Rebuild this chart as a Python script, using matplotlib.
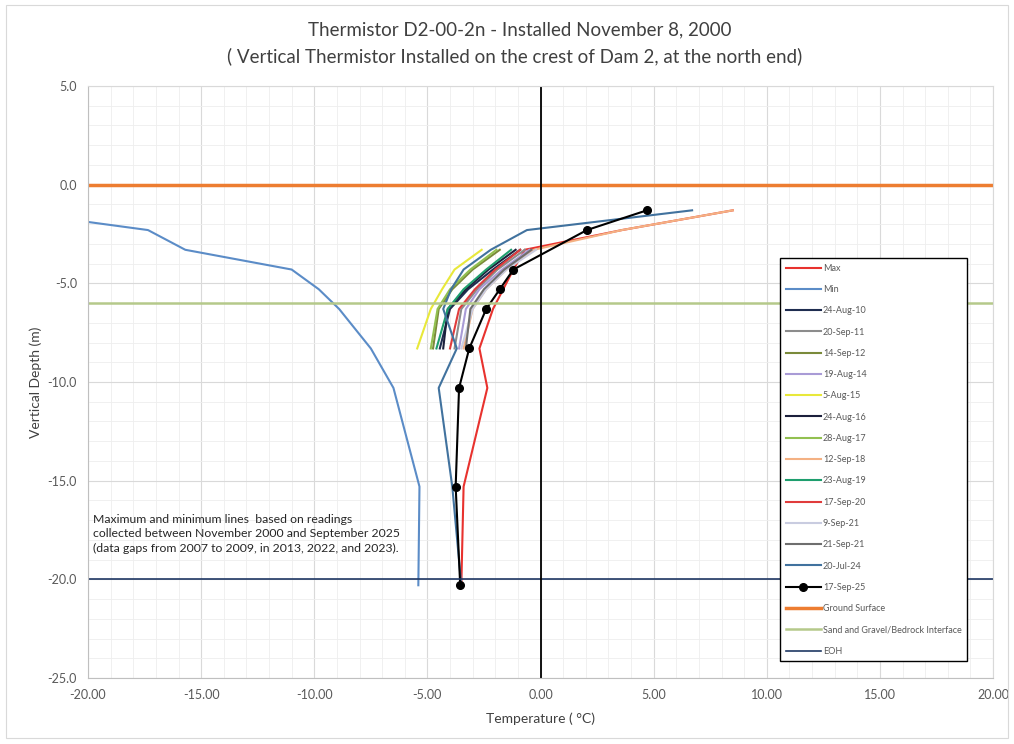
import numpy as np
import matplotlib
matplotlib.use('Agg')
import matplotlib.pyplot as plt
from matplotlib.patches import Rectangle
from matplotlib.ticker import MultipleLocator, FormatStrFormatter

plt.rcParams['font.family'] = ['Lato', 'DejaVu Sans']

# bead depths (m)
depth_full = [-1.3, -2.3, -3.3, -4.3, -5.3, -6.3, -8.3, -10.3, -15.3, -20.3]
depth_mid = [-3.3, -4.3, -5.3, -6.3, -8.3]
depth_18 = [-1.3, -2.3, -3.3, -4.3, -5.3, -6.3, -8.3]
depth_25 = [-1.3, -2.3, -4.3, -5.3, -6.3, -8.3, -10.3, -15.3, -20.3]

# temperatures (deg C)
t_max = [8.5, 3.6, -0.7, -1.2, -1.65, -2.1, -2.7, -2.35, -3.4, -3.5]
t_min = [-23.8, -17.35, -15.7, -11.0, -9.8, -8.9, -7.5, -6.5, -5.35, -5.4]
t_240810 = [-0.9, -2.1, -3.2, -4.0, -4.45]
t_110920 = [-0.7, -1.9, -2.8, -3.5, -3.8]
t_120914 = [-1.8, -3.0, -3.9, -4.5, -4.75]
t_140819 = [-0.5, -1.7, -2.7, -3.3, -3.6]
t_150805 = [-2.6, -3.8, -4.35, -4.85, -5.45]
t_160824 = [-1.1, -2.3, -3.3, -4.1, -4.3]
t_170828 = [-1.95, -3.1, -4.0, -4.55, -4.85]
t_180912 = [8.5, 3.6, -0.3, -1.5, -2.4, -3.0, -3.4]
t_190823 = [-1.3, -2.4, -3.4, -4.1, -4.6]
t_200917 = [-0.9, -2.0, -2.9, -3.6, -4.0]
t_210909 = [-0.2, -1.5, -2.4, -3.0, -3.5]
t_210921 = [-0.4, -1.6, -2.5, -3.1, -3.3]
t_240720 = [6.7, -0.6, -2.2, -3.4, -3.95, -4.3, -3.7, -4.5, -3.9, -3.5]
t_250917 = [4.7, 2.05, -1.2, -1.8, -2.4, -3.15, -3.6, -3.75, -3.55]

ground_surface = 0.0
bedrock_interface = -6.0
eoh = -20.0

fig = plt.figure(figsize=(10.14, 7.44), dpi=100)
fig.patches.append(Rectangle((0.006, 0.008), 0.988, 0.985, transform=fig.transFigure,
                             fill=False, edgecolor='#D9D9D9', lw=0.8))
ax = fig.add_axes([0.0868, 0.0887, 0.8925, 0.7957])

ax.plot(t_max, depth_full, color='#E8322E', lw=1.5, label='Max')
ax.plot(t_min, depth_full, color='#5B8CC7', lw=1.5, label='Min')
ax.plot(t_240810, depth_mid, color='#1F2D50', lw=1.5, label='24-Aug-10')
ax.plot(t_110920, depth_mid, color='#8C8C8C', lw=1.5, label='20-Sep-11')
ax.plot(t_120914, depth_mid, color='#7A8A3A', lw=1.5, label='14-Sep-12')
ax.plot(t_140819, depth_mid, color='#A99BD6', lw=1.5, label='19-Aug-14')
ax.plot(t_150805, depth_mid, color='#E8E83A', lw=1.5, label='5-Aug-15')
ax.plot(t_160824, depth_mid, color='#1B1F3B', lw=1.5, label='24-Aug-16')
ax.plot(t_170828, depth_mid, color='#92C050', lw=1.5, label='28-Aug-17')
ax.plot(t_180912, depth_18, color='#F4B183', lw=1.5, label='12-Sep-18')
ax.plot(t_190823, depth_mid, color='#1E9E6E', lw=1.5, label='23-Aug-19')
ax.plot(t_200917, depth_mid, color='#E03C3C', lw=1.5, label='17-Sep-20')
ax.plot(t_210909, depth_mid, color='#C9CCE0', lw=1.5, label='9-Sep-21')
ax.plot(t_210921, depth_mid, color='#6E6E6E', lw=1.5, label='21-Sep-21')
ax.plot(t_240720, depth_full, color='#41729E', lw=1.5, label='20-Jul-24')
ax.plot(t_250917, depth_25, color='black', lw=1.5, marker='o', ms=5.5, label='17-Sep-25')
ax.axhline(ground_surface, color='#ED7D31', lw=2.5, label='Ground Surface')
ax.axhline(bedrock_interface, color='#B5C98A', lw=1.8, label='Sand and Gravel/Bedrock Interface')
ax.axhline(eoh, color='#1F3864', lw=1.2, label='EOH')
ax.axvline(0, color='black', lw=1.3)

ax.set_xlim(-20, 20)
ax.set_ylim(-25, 5)
ax.xaxis.set_major_locator(MultipleLocator(5))
ax.xaxis.set_minor_locator(MultipleLocator(1))
ax.yaxis.set_major_locator(MultipleLocator(5))
ax.yaxis.set_minor_locator(MultipleLocator(1))
ax.xaxis.set_major_formatter(FormatStrFormatter('%.2f'))
ax.yaxis.set_major_formatter(FormatStrFormatter('%.1f'))
ax.grid(which='major', color='#D9D9D9', lw=0.8)
ax.grid(which='minor', color='#EEEEEE', lw=0.6)
ax.set_axisbelow(True)
ax.tick_params(which='both', length=0, labelsize=9, colors='#595959', pad=8)
for s in ax.spines.values():
    s.set_color('#D9D9D9')
ax.spines['left'].set_color('#BFBFBF')
ax.spines['bottom'].set_color('#BFBFBF')

ax.set_xlabel('Temperature ( °C)', fontsize=10, color='#404040', labelpad=8)
ax.set_ylabel('Vertical Depth (m)', fontsize=10, color='#404040', labelpad=4)

fig.text(0.513, 0.96, 'Thermistor D2-00-2n - Installed November 8, 2000',
         ha='center', va='center', fontsize=13.5, color='#404040')
fig.text(0.508, 0.925, '( Vertical Thermistor Installed on the crest of Dam 2, at the north end)',
         ha='center', va='center', fontsize=13.5, color='#404040')

ax.text(-19.8, -16.7, 'Maximum and minimum lines  based on readings\n'
        'collected between November 2000 and September 2025\n'
        '(data gaps from 2007 to 2009, in 2013, 2022, and 2023).',
        ha='left', va='top', fontsize=8.8, color='#262626', linespacing=1.35)

leg = ax.legend(loc='upper left', bbox_to_anchor=(0.765, 0.709), borderaxespad=0,
                fontsize=6.5, labelspacing=1.36, handlelength=3.9, handletextpad=0.2,
                borderpad=0.6, fancybox=False, framealpha=1, edgecolor='black')
leg.get_frame().set_linewidth(1.0)
for t in leg.get_texts():
    t.set_color('#595959')

fig.savefig('out.png', dpi=100, facecolor='white')
